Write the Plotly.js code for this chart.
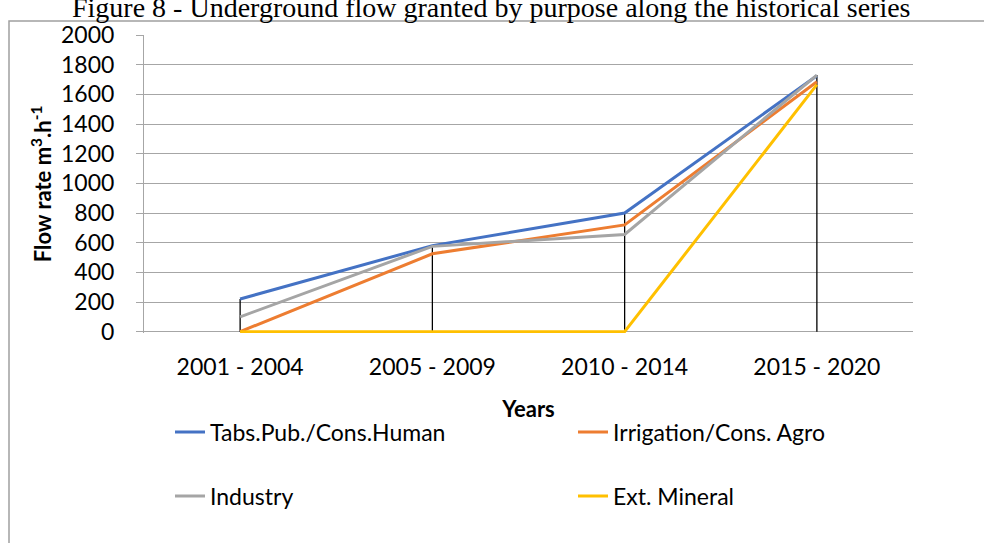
<!DOCTYPE html>
<html>
<head>
<meta charset="utf-8">
<script src="https://cdn.plot.ly/plotly-3.0.1.min.js"></script>
<style>
  html, body { margin: 0; padding: 0; background: #ffffff; }
  #chart { width: 984px; height: 543px; }
</style>
</head>
<body>
<div id="chart"></div>
<script>
// ---- Data ----
const periods = ["2001 - 2004", "2005 - 2009", "2010 - 2014", "2015 - 2020"];
const seriesNames = ["Tabs.Pub./Cons.Human", "Irrigation/Cons. Agro", "Industry", "Ext. Mineral"];
const humanSupply = [220, 580, 800, 1725];
const irrigation = [0, 525, 720, 1685];
const industry = [100, 575, 655, 1730];
const mineral = [0, 0, 0, 1665];
const yTicks = [0, 200, 400, 600, 800, 1000, 1200, 1400, 1600, 1800, 2000];
const chartTitle = "Figure 8 - Underground flow granted by purpose along the historical series";
const xTitle = "Years";
const yTitle = "Flow rate m<sup>3</sup>.h<sup>-1</sup>";

const seriesValues = [humanSupply, irrigation, industry, mineral];
const seriesColors = ["#4472C4", "#ED7D31", "#A5A5A5", "#FFC000"];
const legendIds = ["legend", "legend2", "legend3", "legend4"];

// Drop lines from the highest point of each category down to the axis
const dropX = [], dropY = [];
periods.forEach((p, i) => {
  const top = Math.max(...seriesValues.map(s => s[i]));
  dropX.push(p, p, null);
  dropY.push(0, top, null);
});

const traces = [{
  x: dropX, y: dropY, type: "scatter", mode: "lines",
  line: { color: "#000000", width: 1.3 },
  showlegend: false, hoverinfo: "skip", name: "Drop lines"
}];
seriesValues.forEach((vals, k) => {
  traces.push({
    x: periods, y: vals, type: "scatter", mode: "lines",
    name: seriesNames[k],
    line: { color: seriesColors[k], width: 3 },
    legend: legendIds[k]
  });
});

const F = "Lato, 'Liberation Sans', sans-serif";
const W = 984, H = 543;
const L = 144, R = 71, T = 35, B = 210;
const pw = W - L - R, ph = H - T - B;
const yMin = -9, yMax = 2000;
const px = v => (v - L) / pw;          // pixel x -> paper x
const py = v => (H - B - v) / ph;      // pixel y -> paper y

const legendCommon = {
  orientation: "h", bgcolor: "rgba(0,0,0,0)", borderwidth: 0,
  font: { family: F, size: 23, color: "#000000" },
  xanchor: "left", yanchor: "middle", itemclick: false, itemdoubleclick: false
};
// legend grid: 2 columns x 2 rows (left px, centre-y px)
const legendPos = [[170, 432], [573, 432], [170, 496], [573, 496]];

const layout = {
  width: W, height: H,
  margin: { l: L, r: R, t: T, b: B, pad: 0 },
  paper_bgcolor: "#ffffff", plot_bgcolor: "#ffffff",
  font: { family: F, size: 23, color: "#000000" },
  showlegend: true,
  xaxis: {
    type: "category", range: [-0.5, 3.5],
    showgrid: false, zeroline: false,
    showline: false, ticks: "",
    ticklabelstandoff: 18,
    tickfont: { family: F, size: 23, color: "#000000" },
    title: { text: xTitle, font: { family: F, size: 22, color: "#000000", weight: "bold" }, standoff: 22 },
    fixedrange: true
  },
  yaxis: {
    range: [yMin, yMax], tickvals: yTicks, ticktext: yTicks.map(String),
    showgrid: true, gridcolor: "#A6A6A6", gridwidth: 1,
    zeroline: true, zerolinecolor: "#A6A6A6", zerolinewidth: 1,
    showline: true, linecolor: "#A6A6A6", linewidth: 1,
    ticks: "outside", ticklen: 7, tickcolor: "#A6A6A6", tickwidth: 1,
    ticklabelstandoff: 17,
    tickfont: { family: F, size: 23, color: "#000000" },
    title: { text: yTitle, font: { family: F, size: 22, color: "#000000", weight: "bold" }, standoff: 3 },
    fixedrange: true
  },
  shapes: [{
    type: "rect", xref: "paper", yref: "paper",
    x0: px(9), x1: px(1000), y0: py(560), y1: py(21),
    line: { color: "#A0A0A0", width: 1.5 }, fillcolor: "rgba(0,0,0,0)", layer: "below"
  }],
  annotations: [{
    text: chartTitle, xref: "paper", yref: "paper",
    x: px(491), y: py(25), xanchor: "center", yanchor: "bottom",
    showarrow: false,
    font: { family: "'Liberation Serif', 'DejaVu Serif', serif", size: 28, color: "#000000" }
  }]
};
legendIds.forEach((id, k) => {
  layout[id] = Object.assign({}, legendCommon, { x: px(legendPos[k][0]), y: py(legendPos[k][1]) });
});

Plotly.newPlot("chart", traces, layout, { displayModeBar: false, staticPlot: true });
</script>
</body>
</html>
